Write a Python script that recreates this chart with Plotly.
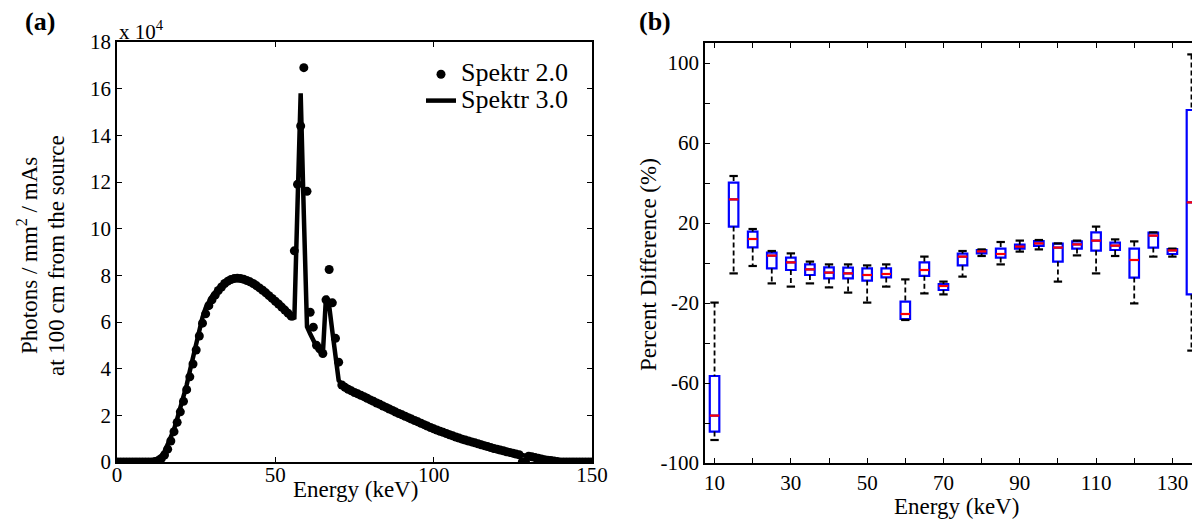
import plotly.graph_objects as go
from plotly.subplots import make_subplots

W, H = 1200, 521
OFF = 8  # the page body margin shifts the figure by this many pixels
FONT = "Liberation Serif"

# panel (a): spectrum, photons / mm^2 / mAs in units of 1e4
energy_a = list(range(0, 151))
spektr2 = (
    [0.0] * 12
    + [0.02, 0.06, 0.15, 0.30, 0.55, 0.90, 1.30, 1.70, 2.15, 2.60,
       3.10, 3.65, 4.20, 4.80, 5.40, 5.95, 6.35, 6.70, 6.95, 7.15,
       7.35, 7.50, 7.65, 7.75, 7.82, 7.86, 7.88, 7.86, 7.83, 7.78,
       7.72, 7.65, 7.56, 7.46, 7.36, 7.25, 7.13, 7.01, 6.89, 6.77,
       6.64, 6.51, 6.38, 6.25, 9.05, 11.90, 14.40, 16.90, 11.60, 6.42,
       5.78, 5.00, 4.85, 4.65, 6.95, 8.25, 6.82, 5.30, 4.28, 3.30,
       3.20, 3.12, 3.05, 2.98, 2.92, 2.86, 2.80, 2.73, 2.66, 2.60,
       2.53, 2.47, 2.40, 2.34, 2.27, 2.21, 2.14, 2.08, 2.02, 1.96,
       1.90, 1.84, 1.78, 1.72, 1.66, 1.60, 1.54, 1.48, 1.42, 1.37,
       1.32, 1.27, 1.22, 1.17, 1.12, 1.07, 1.03, 0.98, 0.94, 0.90,
       0.86, 0.82, 0.78, 0.74, 0.70, 0.66, 0.62, 0.58, 0.55, 0.51,
       0.48, 0.44, 0.41, 0.38, 0.34, 0.31]
    + [0.0, 0.0]
    + [0.25, 0.22, 0.19, 0.16, 0.13, 0.10, 0.08, 0.06, 0.04, 0.02]
    + [0.0] * 11
)
spektr3 = (
    [0.0] * 12
    + [0.05, 0.12, 0.25, 0.45, 0.75, 1.05, 1.40, 1.85, 2.30, 2.80,
       3.30, 3.90, 4.50, 5.10, 5.75, 6.20, 6.60, 6.90, 7.10, 7.28,
       7.45, 7.60, 7.72, 7.80, 7.85, 7.88, 7.90, 7.87, 7.83, 7.78,
       7.72, 7.65, 7.56, 7.46, 7.36, 7.25, 7.13, 7.01, 6.89, 6.77,
       6.64, 6.51, 6.38, 6.25, 6.12, 11.00, 15.80, 10.60, 5.80, 5.50,
       5.20, 4.95, 4.75, 4.60, 7.10, 6.70, 5.60, 4.50, 3.50, 3.32,
       3.22, 3.13, 3.06, 2.99, 2.93, 2.87, 2.81, 2.74, 2.67, 2.61,
       2.54, 2.48, 2.41, 2.35, 2.28, 2.22, 2.15, 2.09, 2.03, 1.97,
       1.91, 1.85, 1.79, 1.73, 1.67, 1.61, 1.55, 1.49, 1.43, 1.38,
       1.33, 1.28, 1.23, 1.18, 1.13, 1.08, 1.04, 0.99, 0.95, 0.91,
       0.87, 0.83, 0.79, 0.75, 0.71, 0.67, 0.63, 0.59, 0.56, 0.52,
       0.49, 0.45, 0.42, 0.39, 0.35, 0.32]
    + [0.29, 0.27]
    + [0.25, 0.22, 0.19, 0.16, 0.13, 0.10, 0.08, 0.06, 0.04, 0.02]
    + [0.0] * 11
)

# panel (b): percent difference box statistics per energy bin
box_energy = [10, 15, 20, 25, 30, 35, 40, 45, 50, 55, 60, 65, 70,
              75, 80, 85, 90, 95, 100, 105, 110, 115, 120, 125, 130, 135]
box_upper = [-19.8, 43.5, 17.0, 6.0, 4.8, 0.7, -0.7, -0.7, -1.2, -0.7, -8.2, 3.2, -9.3,
             6.0, 6.8, 10.5, 11.2, 11.5, 9.8, 11.2, 18.2, 11.8, 10.8, 15.3, 7.2, 104.3]
box_q3 = [-56.5, 40.2, 15.7, 5.2, 2.7, -0.7, -2.2, -2.3, -2.7, -2.7, -19.3, 0.3, -10.5,
          4.7, 6.5, 7.2, 9.2, 11.0, 9.7, 10.8, 15.3, 10.2, 7.2, 15.2, 7.0, 76.5]
box_median = [-76.3, 31.8, 12.0, 3.7, 0.3, -3.2, -4.8, -5.2, -6.0, -5.5, -25.5, -3.5, -11.5,
              3.2, 5.8, 4.5, 8.2, 9.8, 7.7, 9.3, 11.2, 8.7, 1.5, 13.7, 6.3, 30.3]
box_q1 = [-84.3, 18.2, 7.8, -2.7, -3.5, -6.0, -7.7, -7.7, -8.8, -7.2, -28.0, -6.4, -13.5,
          -1.2, 4.8, 2.7, 7.2, 8.5, 0.7, 7.2, 6.2, 6.5, -7.3, 7.7, 4.5, -15.7]
box_lower = [-88.5, -5.2, -1.5, -10.2, -11.8, -10.2, -12.2, -14.8, -19.8, -11.8, -28.5, -15.2, -15.7,
             -6.8, 3.5, -0.7, 5.7, 6.8, -9.3, 3.8, -5.2, 3.5, -20.2, 3.2, 3.2, -43.8]

BOX_W = 2.5


def px(x):
    return (x - OFF) / W


def py(y):
    return 1 - (y - OFF) / H


fig = make_subplots(rows=1, cols=2)

fig.add_trace(
    go.Scatter(x=energy_a, y=spektr2, mode="markers",
               name="<span style='font-size:26px'>Spektr 2.0</span>",
               marker=dict(color="black", size=9)),
    row=1, col=1,
)
fig.add_trace(
    go.Scatter(x=energy_a, y=spektr3, mode="lines",
               name="<span style='font-size:26px'>Spektr 3.0</span>",
               line=dict(color="black", width=4.5)),
    row=1, col=1,
)

# boxes first so the scatter layer (whiskers, medians) sits on top
fig.add_trace(
    go.Box(x=box_energy, q1=box_q1, median=box_median, q3=box_q3,
           lowerfence=box_q1, upperfence=box_q3, width=BOX_W, whiskerwidth=0,
           line=dict(color="#0000ff", width=2.2), fillcolor="rgba(255,255,255,0)",
           boxpoints=False, showlegend=False, hoverinfo="skip"),
    row=1, col=2,
)

wx, wy = [], []
for e, lo, q1, q3, hi in zip(box_energy, box_lower, box_q1, box_q3, box_upper):
    wx += [e, e, None, e, e, None]
    wy += [hi, q3, None, q1, lo, None]
fig.add_trace(
    go.Scatter(x=wx, y=wy, mode="lines", showlegend=False, hoverinfo="skip",
               line=dict(color="black", width=1.8, dash="5px,3px")),
    row=1, col=2,
)
fig.add_trace(
    go.Scatter(x=box_energy + box_energy, y=box_upper + box_lower, mode="markers",
               showlegend=False, hoverinfo="skip",
               marker=dict(symbol="line-ew", size=6, line=dict(color="black", width=2.2))),
    row=1, col=2,
)

mx, my = [], []
for e, m in zip(box_energy, box_median):
    mx += [e - BOX_W / 2, e + BOX_W / 2, None]
    my += [m, m, None]
fig.add_trace(
    go.Scatter(x=mx, y=my, mode="lines", showlegend=False, hoverinfo="skip",
               line=dict(color="#ff0000", width=2.2)),
    row=1, col=2,
)

axis_style = dict(
    showline=True, linecolor="black", linewidth=1.5, mirror="ticks",
    ticks="inside", ticklen=5, tickwidth=1, tickcolor="black",
    showgrid=False, zeroline=False, automargin=False,
    tickfont=dict(family=FONT, size=21, color="black"),
)

fig.update_xaxes(axis_style, row=1, col=1, domain=[px(117), px(592)], range=[0, 150],
                 tickvals=[0, 50, 100, 150], ticklabelstandoff=-7)
fig.update_yaxes(axis_style, row=1, col=1, domain=[py(462), py(42)], range=[0, 18],
                 tickvals=list(range(0, 19, 2)))

bx_vals = list(range(10, 131, 10))
bx_text = [str(v) if (v - 10) % 20 == 0 else "" for v in bx_vals]
by_vals = list(range(-100, 101, 20))
by_text = [str(v) if (v + 100) % 40 == 0 else "" for v in by_vals]
fig.update_xaxes(axis_style, row=1, col=2, domain=[px(705), px(1201)], range=[7.5, 137.5],
                 tickvals=bx_vals, ticktext=bx_text)
fig.update_yaxes(axis_style, row=1, col=2, domain=[py(463), py(43)], range=[-100, 110],
                 tickvals=by_vals, ticktext=by_text)

txt = dict(family=FONT, size=23, color="black")
annotations = [
    dict(text="<b>(a)</b>", x=px(40), y=py(22), font=dict(family=FONT, size=26, color="black")),
    dict(text="<b>(b)</b>", x=px(655), y=py(22), font=dict(family=FONT, size=26, color="black")),
    dict(text="x 10<sup>4</sup>", x=px(117), y=py(46), xanchor="left", yanchor="bottom",
         font=dict(family=FONT, size=21, color="black")),
    dict(text="Photons / mm<sup>2</sup> / mAs", x=px(27), y=py(256), textangle=-90, font=txt),
    dict(text="at 100 cm from the source", x=px(56), y=py(256), textangle=-90, font=txt),
    dict(text="Energy (keV)", x=px(355), y=py(489), font=txt),
    dict(text="Percent Difference (%)", x=px(649), y=py(265), textangle=-90, font=txt),
    dict(text="Energy (keV)", x=px(956), y=py(506), font=txt),
]
for a in annotations:
    a.setdefault("xanchor", "center")
    a.setdefault("yanchor", "middle")
    fig.add_annotation(xref="paper", yref="paper", showarrow=False, **a)

fig.update_layout(
    width=W, height=H,
    margin=dict(l=0, r=0, t=0, b=0, pad=0, autoexpand=False),
    paper_bgcolor="white",
    plot_bgcolor="white",
    font=dict(family=FONT, color="black"),
    legend=dict(x=px(421), y=py(56), xanchor="left", yanchor="top",
                bgcolor="rgba(0,0,0,0)", font=dict(family=FONT, size=18, color="black"),
                tracegroupgap=0, itemwidth=30),
)

fig.write_html("out.html")
